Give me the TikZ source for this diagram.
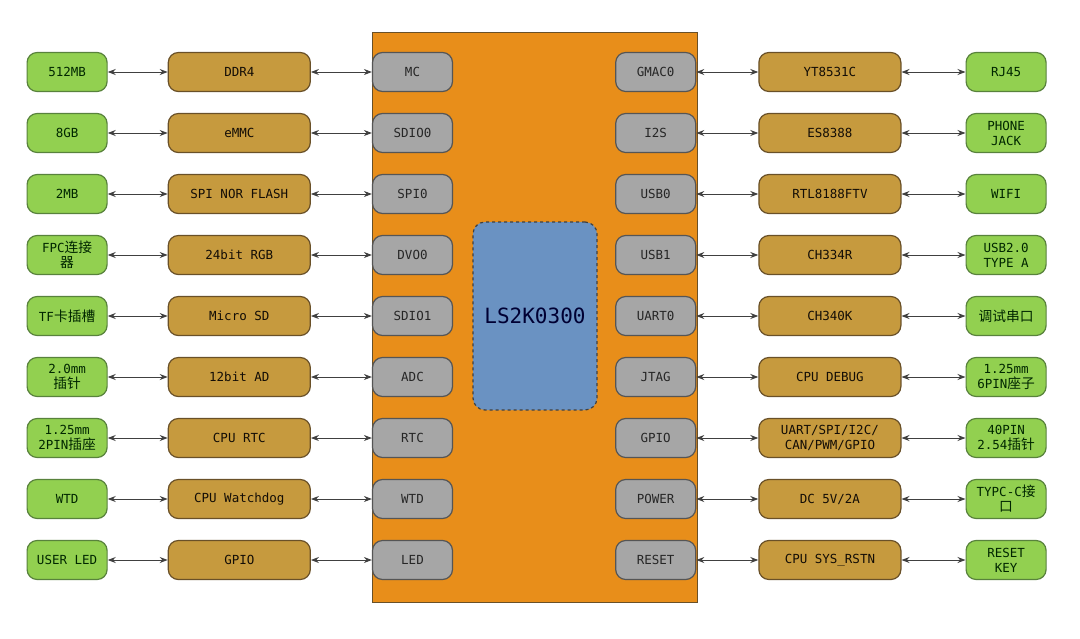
\documentclass[tikz,border=0pt]{standalone}
\usepackage{fontspec}
\setmainfont{DejaVu Sans Mono}
\newfontfamily\cjk[Scale=1.1]{Noto Sans CJK SC}
\usetikzlibrary{arrows.meta,positioning}
\definecolor{verdePorta}{RGB}{146,208,80}
\definecolor{verdeBorda}{RGB}{88,130,60}
\definecolor{marromChip}{RGB}{198,154,62}
\definecolor{marromBorda}{RGB}{105,80,40}
\definecolor{cinzaPino}{RGB}{166,166,166}
\definecolor{cinzaBorda}{RGB}{85,85,85}
\definecolor{laranjaSoC}{RGB}{232,142,26}
\definecolor{azulNucleo}{RGB}{106,146,194}
\tikzset{
  porta/.style={rectangle, draw=verdeBorda, line width=1.2pt, fill=verdePorta,
                rounded corners=10pt, minimum width=80pt, minimum height=39pt,
                inner sep=1pt, align=center, text=black!85!green,
                font=\fontsize{12.5}{15}\selectfont},
  chip/.style={rectangle, draw=marromBorda, line width=1.2pt, fill=marromChip,
               rounded corners=10pt, minimum width=142pt, minimum height=39pt,
               inner sep=1pt, align=center, text=black!90!brown,
               font=\fontsize{12.5}{15}\selectfont},
  pino/.style={rectangle, draw=cinzaBorda, line width=1.2pt, fill=cinzaPino,
               rounded corners=10pt, minimum width=80pt, minimum height=39pt,
               inner sep=1pt, align=center, text=black!85,
               font=\fontsize{12.5}{15}\selectfont},
  seta/.style={{Stealth[length=8pt,width=6pt]}-{Stealth[length=8pt,width=6pt]},
               line width=1pt, black!75},
}
\begin{document}
\begin{tikzpicture}[x=1pt, y=-1pt, node distance=20.8pt and 61pt]
  \useasboundingbox[fill=white] (0,0) rectangle (1080,638);
  % SoC
  \node[draw=marromBorda, line width=1pt, fill=laranjaSoC, minimum width=325pt,
        minimum height=570pt, inner sep=0pt] (soc) at (534.5,317) {};
  \node[draw=black!75, dashed, line width=1.2pt, fill=azulNucleo, rounded corners=12pt,
        minimum width=124pt, minimum height=188pt, text=black!80!blue,
        font=\fontsize{21}{24}\selectfont] (cpu) at (535,316) {LS2K0300};
  % lado esquerdo
  \node[pino] (il1) at (412.5,72) {MC};
  \node[pino, below=of il1] (il2) {SDIO0};
  \node[pino, below=of il2] (il3) {SPI0};
  \node[pino, below=of il3] (il4) {DVO0};
  \node[pino, below=of il4] (il5) {SDIO1};
  \node[pino, below=of il5] (il6) {ADC};
  \node[pino, below=of il6] (il7) {RTC};
  \node[pino, below=of il7] (il8) {WTD};
  \node[pino, below=of il8] (il9) {LED};
  \node[chip, left=of il1] (bl1) {DDR4};
  \node[chip, left=of il2] (bl2) {eMMC};
  \node[chip, left=of il3] (bl3) {SPI NOR FLASH};
  \node[chip, left=of il4] (bl4) {24bit RGB};
  \node[chip, left=of il5] (bl5) {Micro SD};
  \node[chip, left=of il6] (bl6) {12bit AD};
  \node[chip, left=of il7] (bl7) {CPU RTC};
  \node[chip, left=of il8] (bl8) {CPU Watchdog};
  \node[chip, left=of il9] (bl9) {GPIO};
  \node[porta, left=60pt of bl1] (pl1) {512MB};
  \node[porta, left=60pt of bl2] (pl2) {8GB};
  \node[porta, left=60pt of bl3] (pl3) {2MB};
  \node[porta, left=60pt of bl4] (pl4) {FPC{\cjk 连接}\\{\cjk 器}};
  \node[porta, left=60pt of bl5] (pl5) {TF{\cjk 卡插槽}};
  \node[porta, left=60pt of bl6] (pl6) {2.0mm\\{\cjk 插针}};
  \node[porta, left=60pt of bl7] (pl7) {1.25mm\\2PIN{\cjk 插座}};
  \node[porta, left=60pt of bl8] (pl8) {WTD};
  \node[porta, left=60pt of bl9] (pl9) {USER LED};
  % lado direito
  \node[pino, right=162pt of il1] (ir1) {GMAC0};
  \node[pino, below=of ir1] (ir2) {I2S};
  \node[pino, below=of ir2] (ir3) {USB0};
  \node[pino, below=of ir3] (ir4) {USB1};
  \node[pino, below=of ir4] (ir5) {UART0};
  \node[pino, below=of ir5] (ir6) {JTAG};
  \node[pino, below=of ir6] (ir7) {GPIO};
  \node[pino, below=of ir7] (ir8) {POWER};
  \node[pino, below=of ir8] (ir9) {RESET};
  \node[chip, right=62pt of ir1] (br1) {YT8531C};
  \node[chip, right=62pt of ir2] (br2) {ES8388};
  \node[chip, right=62pt of ir3] (br3) {RTL8188FTV};
  \node[chip, right=62pt of ir4] (br4) {CH334R};
  \node[chip, right=62pt of ir5] (br5) {CH340K};
  \node[chip, right=62pt of ir6] (br6) {CPU DEBUG};
  \node[chip, right=62pt of ir7] (br7) {UART/SPI/I2C/\\CAN/PWM/GPIO};
  \node[chip, right=62pt of ir8] (br8) {DC 5V/2A};
  \node[chip, right=62pt of ir9] (br9) {CPU SYS\_RSTN};
  \node[porta, right=64pt of br1] (pr1) {RJ45};
  \node[porta, right=64pt of br2] (pr2) {PHONE\\JACK};
  \node[porta, right=64pt of br3] (pr3) {WIFI};
  \node[porta, right=64pt of br4] (pr4) {USB2.0\\TYPE A};
  \node[porta, right=64pt of br5] (pr5) {{\cjk 调试串口}};
  \node[porta, right=64pt of br6] (pr6) {1.25mm\\6PIN{\cjk 座子}};
  \node[porta, right=64pt of br7] (pr7) {40PIN\\2.54{\cjk 插针}};
  \node[porta, right=64pt of br8] (pr8) {TYPC-C{\cjk 接}\\{\cjk 口}};
  \node[porta, right=64pt of br9] (pr9) {RESET\\KEY};
  % ligacoes
  \draw[seta] (pl1) -- (bl1); \draw[seta] (bl1) -- (il1);
  \draw[seta] (pl2) -- (bl2); \draw[seta] (bl2) -- (il2);
  \draw[seta] (pl3) -- (bl3); \draw[seta] (bl3) -- (il3);
  \draw[seta] (pl4) -- (bl4); \draw[seta] (bl4) -- (il4);
  \draw[seta] (pl5) -- (bl5); \draw[seta] (bl5) -- (il5);
  \draw[seta] (pl6) -- (bl6); \draw[seta] (bl6) -- (il6);
  \draw[seta] (pl7) -- (bl7); \draw[seta] (bl7) -- (il7);
  \draw[seta] (pl8) -- (bl8); \draw[seta] (bl8) -- (il8);
  \draw[seta] (pl9) -- (bl9); \draw[seta] (bl9) -- (il9);
  \draw[seta] (ir1) -- (br1); \draw[seta] (br1) -- (pr1);
  \draw[seta] (ir2) -- (br2); \draw[seta] (br2) -- (pr2);
  \draw[seta] (ir3) -- (br3); \draw[seta] (br3) -- (pr3);
  \draw[seta] (ir4) -- (br4); \draw[seta] (br4) -- (pr4);
  \draw[seta] (ir5) -- (br5); \draw[seta] (br5) -- (pr5);
  \draw[seta] (ir6) -- (br6); \draw[seta] (br6) -- (pr6);
  \draw[seta] (ir7) -- (br7); \draw[seta] (br7) -- (pr7);
  \draw[seta] (ir8) -- (br8); \draw[seta] (br8) -- (pr8);
  \draw[seta] (ir9) -- (br9); \draw[seta] (br9) -- (pr9);
\end{tikzpicture}
\end{document}
